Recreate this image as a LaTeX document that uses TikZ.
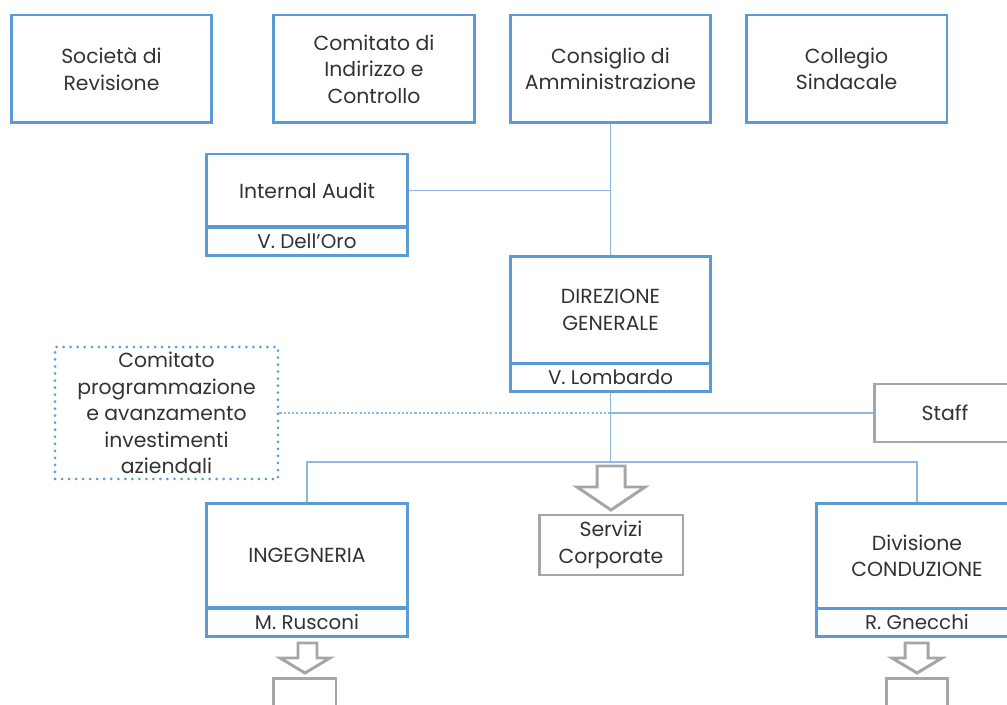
\documentclass[tikz,border=0pt]{standalone}
\usepackage{fontspec}
\setmainfont{Poppins}
\usetikzlibrary{calc}

\definecolor{boxblue}{RGB}{91,155,213}
\definecolor{lineblue}{RGB}{140,185,228}
\definecolor{boxgray}{RGB}{166,166,166}
\definecolor{textgray}{RGB}{50,50,50}

\tikzset{
	unit/.style={draw=boxblue, line width=1.7pt, inner sep=0pt, align=center, text=textgray, minimum width=4.02cm, minimum height=2.16cm},
	namebar/.style={unit, minimum height=0.56cm, font=\fontsize{11.3}{13}\selectfont},
	greybox/.style={draw=boxgray, line width=1.7pt, inner sep=0pt, align=center, text=textgray},
	dotbox/.style={draw=boxblue, line width=1.7pt, line cap=round, dash pattern=on 0pt off 4pt, inner sep=0pt, align=center, text=textgray},
	link/.style={draw=lineblue, line width=0.8pt},
	hollow/.style={draw=boxgray, line width=1.7pt, line join=miter, fill=white}
}

\begin{document}
\begin{tikzpicture}[x=0.02cm, y=-0.02cm, font=\fontsize{11.6}{15}\selectfont]
	\useasboundingbox (0,0) rectangle (1007,705);

	% top row
	\node[unit] (soc) at (111.5,69) {Società di\\Revisione};
	\node[unit] (cic) at (374,69) {Comitato di\\Indirizzo e\\Controllo};
	\node[unit] (cda) at (610.5,69) {Consiglio di\\Amministrazione};
	\node[unit] (cs) at (846.5,69) {Collegio\\Sindacale};

	% audit and direction
	\node[unit, minimum height=1.46cm] (ia) at (307,190.5) {Internal Audit};
	\node[namebar] (ianame) at (307,241.5) {V. Dell’Oro};
	\node[unit] (dg) at (610.5,310) {DIREZIONE\\GENERALE};
	\node[namebar] (dgname) at (610.5,377.5) {V. Lombardo};

	% staff level
	\node[dotbox, minimum width=4.46cm, minimum height=2.64cm] (cpa) at (166.5,413) {Comitato\\programmazione\\e avanzamento\\investimenti\\aziendali};
	\node[greybox, minimum width=2.84cm, minimum height=1.16cm] (staff) at (945,413) {Staff};

	% divisions
	\node[unit, minimum height=2.1cm] (ing) at (307,555.5) {INGEGNERIA};
	\node[namebar] (ingname) at (307,622.5) {M. Rusconi};
	\node[greybox, minimum width=2.88cm, minimum height=1.2cm] (sc) at (611,545) {Servizi\\Corporate};
	\node[unit, minimum height=2.1cm] (div) at (917,556) {Divisione\\CONDUZIONE};
	\node[namebar] (divname) at (917,622.5) {R. Gnecchi};
	\node[greybox, minimum width=1.26cm, minimum height=1cm] (ingsub) at (304.5,703) {};
	\node[greybox, minimum width=1.22cm, minimum height=1cm] (divsub) at (916.5,703) {};

	\coordinate (bus) at (610.5,462);

	\draw[link] (cda) -- (dg);
	\draw[link] (ia) -- (ia -| cda);
	\draw[link] (dgname) -- (bus);
	\draw[link] (ing) |- (bus) -| (div);
	\draw[link, dash pattern=on 1.2pt off 1.2pt] (cpa) -- (cpa -| dg);
	\draw[link] (cpa -| dg) -- (staff);

	% hollow arrows
	\draw[hollow] (597,466) -- (625,466) -- (625,487) -- (645,487) -- (611,510) -- (577,487) -- (597,487) -- cycle;
	\draw[hollow] (298,643) -- (317,643) -- (317,658) -- (330,658) -- (305,673) -- (280,658) -- (298,658) -- cycle;
	\draw[hollow] (905,643) -- (928,643) -- (928,658) -- (942,658) -- (917,673) -- (892,658) -- (905,658) -- cycle;
\end{tikzpicture}
\end{document}
